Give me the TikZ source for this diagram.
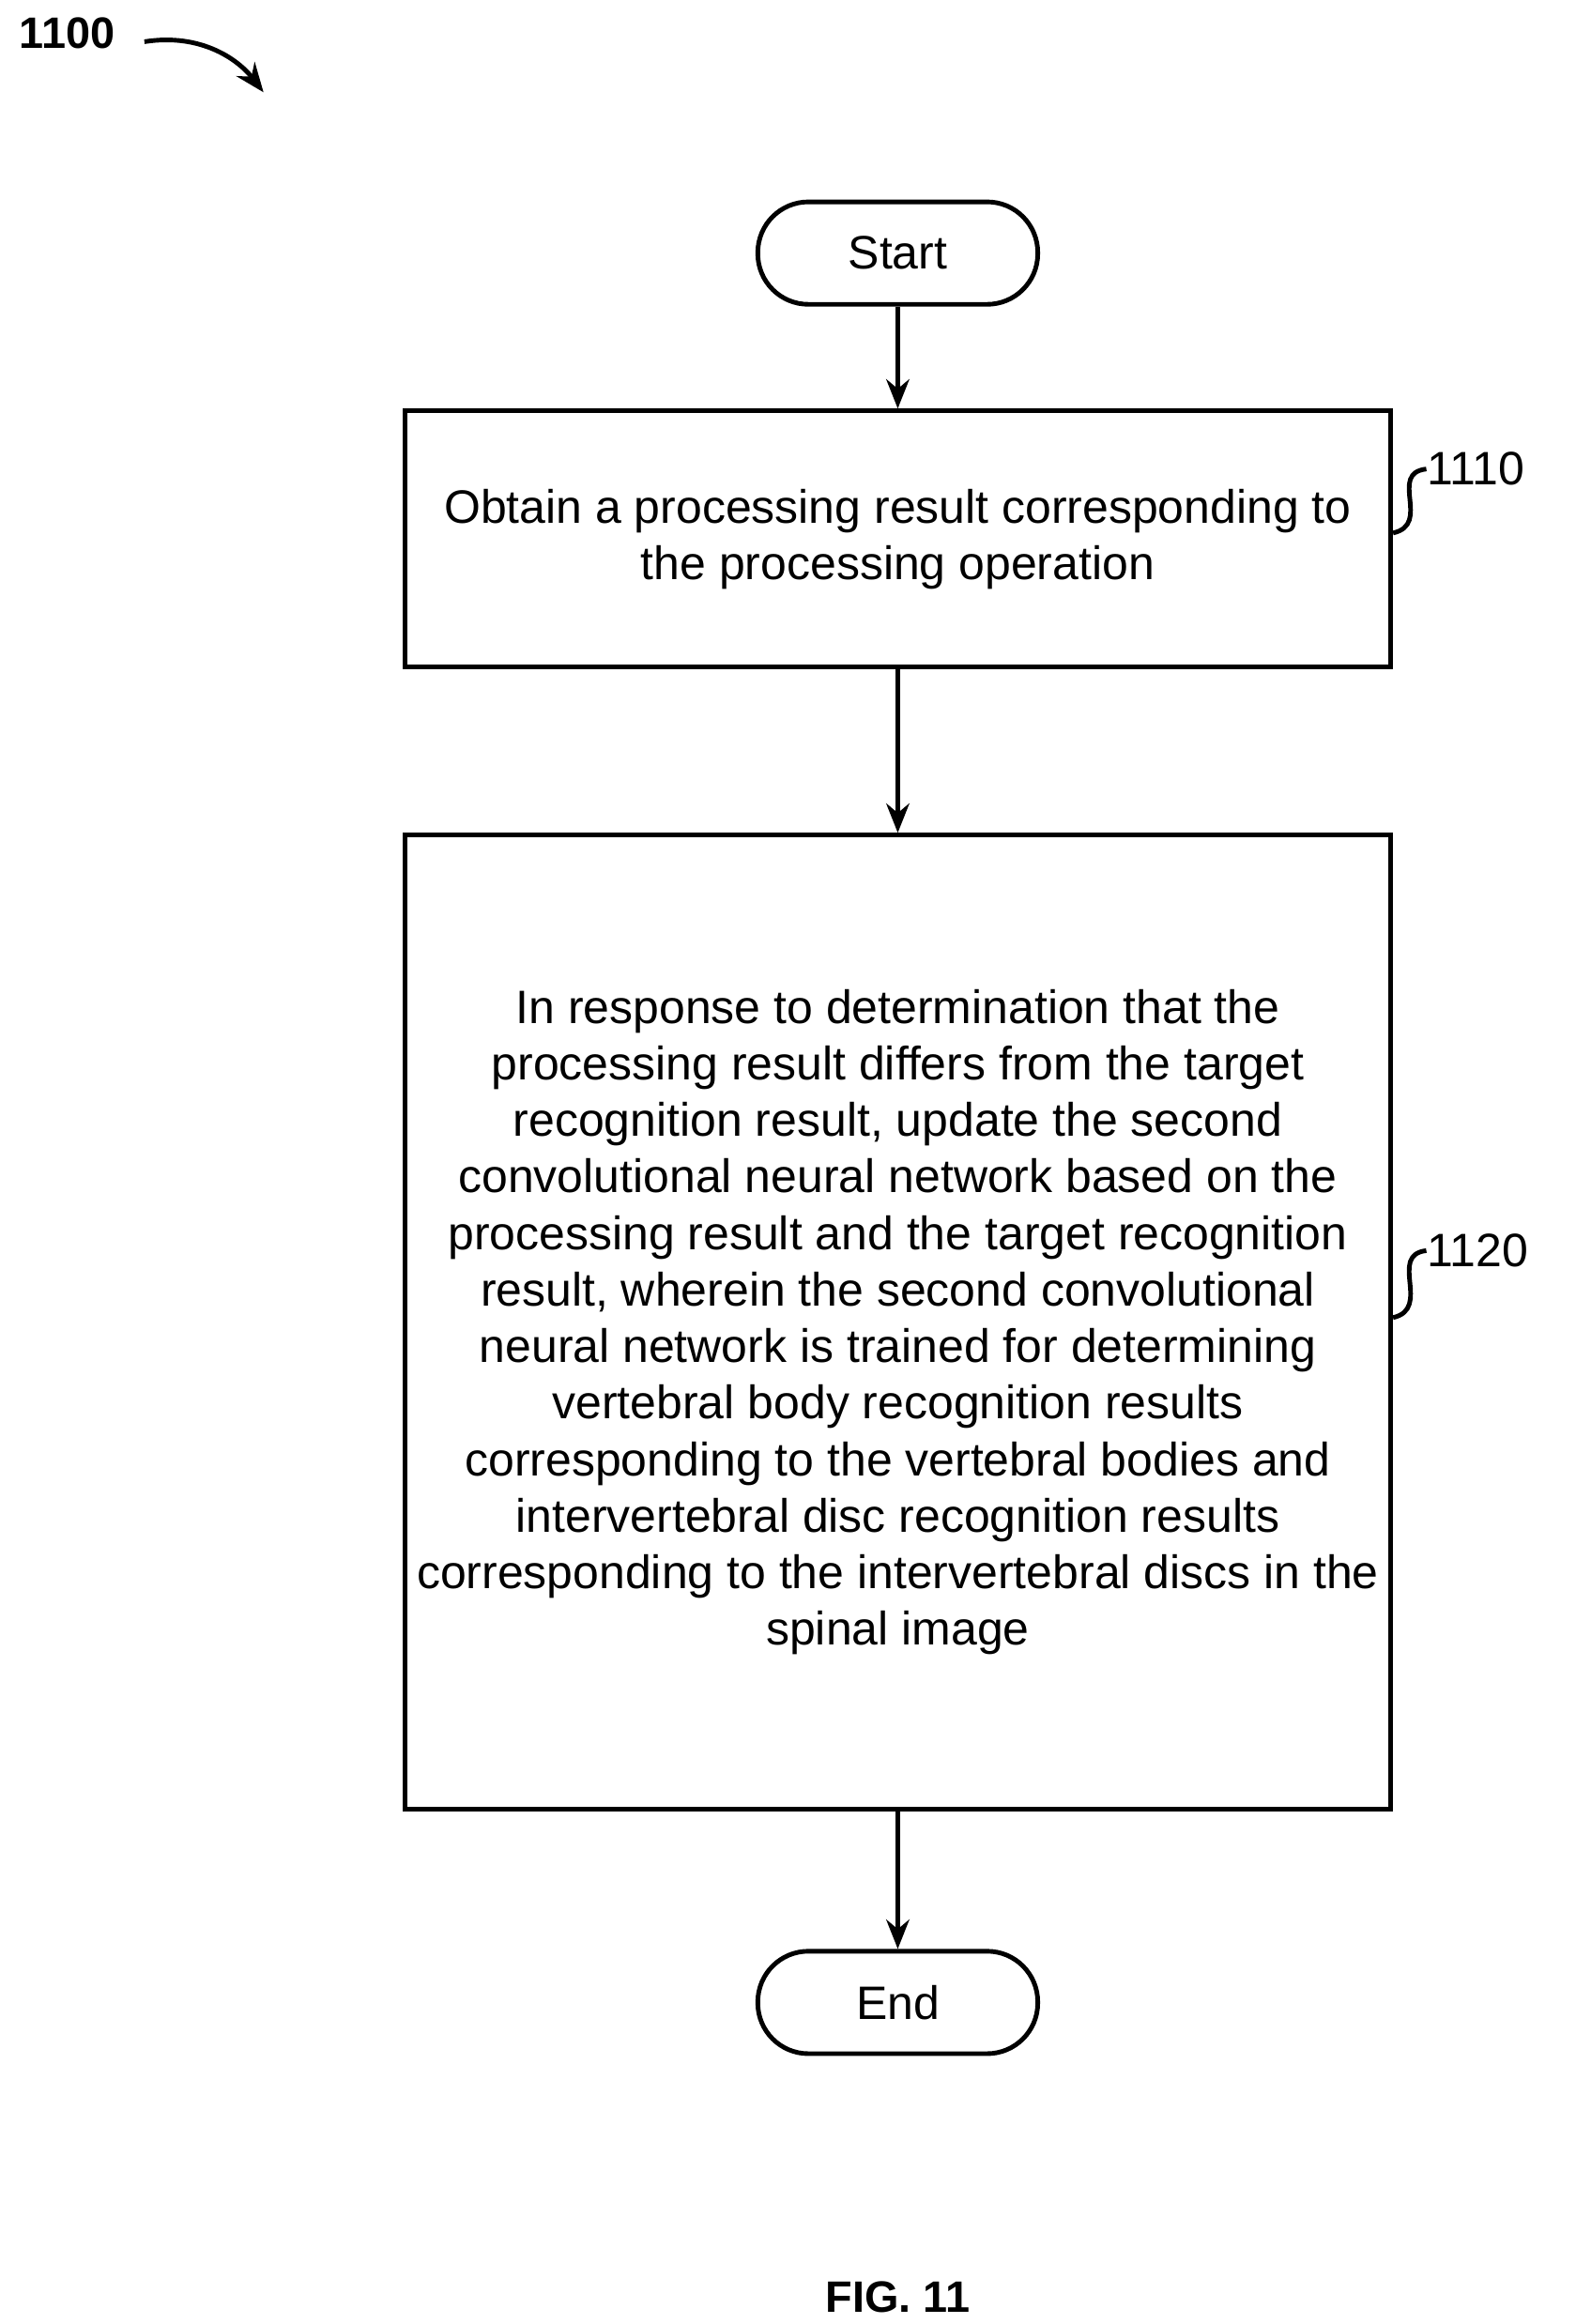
\documentclass[tikz,border=0pt]{standalone}
\usepackage{fontspec}
\setmainfont{Liberation Sans}
\usetikzlibrary{arrows.meta}
\begin{document}
\begin{tikzpicture}
[x=0.025cm,y=-0.025cm,thick,%
  every node/.style={font=\fontsize{22.4pt}{27pt}\selectfont},%
  term/.style={draw,line width=2.2pt,rounded corners=0.85cm,minimum width=4.7cm,minimum height=1.72cm},%
  procbox/.style={draw,line width=2.2pt,minimum width=16.55cm,align=center},%
  flow/.style={->,>={Stealth[length=14pt,width=11pt]},line width=2.2pt}]
\useasboundingbox (0,0) rectangle (1058,1561);
\node[font=\bfseries\fontsize{21pt}{24pt}\selectfont] (fignum) at (45,22) {1100};
\coordinate (fa) at (97,28);
\coordinate (fb) at (177,62);
\draw[flow] (fa) .. controls (135,22) and (160,40) .. (fb);
\node[term] (start) at (603,170) {Start};
\node[procbox,minimum height=4.3cm] (s1110) at (603,362)
  {Obtain a processing result corresponding to\\the processing operation};
\node[procbox,minimum height=16.35cm] (s1120) at (603,888)
  {In response to determination that the\\processing result differs from the target\\recognition result, update the second\\convolutional neural network based on the\\processing result and the target recognition\\result, wherein the second convolutional\\neural network is trained for determining\\vertebral body recognition results\\corresponding to the vertebral bodies and\\intervertebral disc recognition results\\corresponding to the intervertebral discs in the\\spinal image};
\node[term] (end) at (603,1345) {End};
\draw[flow] (start) -- (s1110);
\draw[flow] (s1110) -- (s1120);
\draw[flow] (s1120) -- (end);
% reference labels
\node[anchor=west,inner sep=0pt] (l1110) at (958,315) {1110};
\node[anchor=west,inner sep=0pt] (l1120) at (958,840) {1120};
\draw[line width=2.2pt] (s1110.east |- 0,358) .. controls (962,352) and (932,318) .. (l1110.west);
\draw[line width=2.2pt] (s1120.east |- 0,885) .. controls (962,879) and (932,843) .. (l1120.west);
\node[font=\bfseries\fontsize{21pt}{24pt}\selectfont] (fig) at (603,1543) {FIG. 11};
\end{tikzpicture}
\end{document}
